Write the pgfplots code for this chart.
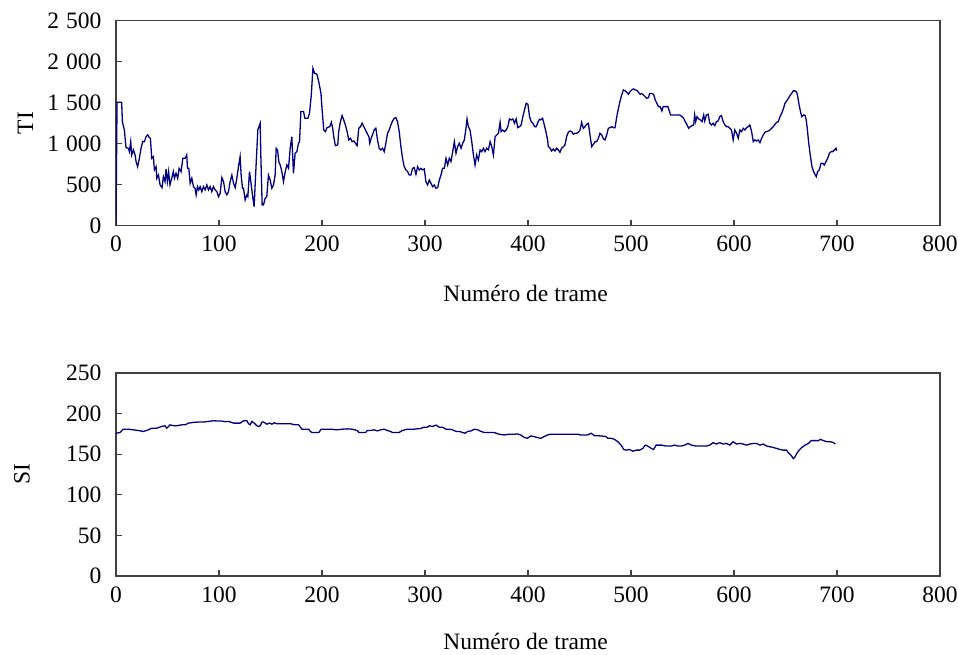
\documentclass[border=0pt]{standalone}
\usepackage{fontspec}
\setmainfont{Liberation Serif}
\usepackage{pgfplots}
\usepackage{pgfplotstable}
\pgfplotsset{compat=1.18}
\definecolor{navyline}{RGB}{0,0,128}
\definecolor{framegray}{RGB}{64,64,64}

\pgfplotstableread{
x y
0 0
1 1505
5.5 1505
6.2 1269
8.1 1168
9.7 952
12 944
13 904
14.3 1025
15.2 863
16.9 924
18.5 863
19.5 781
21 720
22.7 822
24.3 944
25.9 1025
27.6 1025
29.2 1086
30.8 1107
32.4 1074
33.4 1066
34.7 822
36.3 842
37.3 680
38.9 720
39.6 578
41.2 618
42.8 497
44.7 464
46 598
47.6 537
48.6 692
49.9 537
51.1 659
52.4 497
54.1 578
55.7 659
56.7 578
58.3 639
59.9 578
61.3 700
63.2 659
64.9 822
67.1 822
68.7 863
69.4 700
70.7 700
72 517
73.6 578
75.2 476
76.8 456
77.8 375
79.1 476
80.4 436
81.7 476
83.3 415
84.9 476
86.5 436
88.2 497
89.8 436
91.4 476
93 415
94.6 476
96.3 436
97.9 415
99.5 354
101.1 395
102.8 586
104.4 537
106 415
107.6 375
109.2 415
110.8 537
112.5 618
114.1 517
115.7 464
117.3 578
118.9 720
120.5 842
121.5 618
122.8 456
123.8 456
125.4 314
127 375
128 354
129.6 659
130.9 537
132.5 375
134.1 232
135.7 659
137.7 1168
140 1249
140.6 863
141.9 253
143.2 253
144.8 334
146.4 354
148 618
149.7 557
151.3 456
152.9 497
154.5 618
155.5 944
156.8 924
158.1 781
159.4 741
161 659
162.6 537
164.3 659
165.9 741
167.5 700
169.1 944
170.7 1086
172.3 639
173.9 883
175.6 903
177.2 1005
178.2 1025
179.5 1392
182.1 1392
183.4 1310
186.3 1310
187.9 1371
189.6 1595
191.2 1920
192.8 1859
195.1 1847
196.8 1757
199 1615
200 1432
201.7 1167
203.3 1147
204.9 1196
207.5 1208
209.1 1261
210.4 1188
211.4 1086
213 976
215.3 985
216.2 1147
217.9 1269
219.5 1343
221.1 1290
222.7 1229
224.4 1147
226 1046
227.6 1066
229.2 1025
230.9 1033
232.5 1005
234.1 976
235.7 1188
237.4 1208
239 1249
240.6 1208
242.2 1167
243.8 1127
245.5 1086
246.4 1005
247.7 1066
249 1107
250.6 1167
252.3 1188
253.9 1046
255.5 944
257.1 924
258.8 944
260.4 903
262 1005
263.6 1127
265.2 1167
266.9 1229
268.5 1277
270.1 1310
271.7 1318
273.3 1269
275 1147
276.6 964
278.2 822
279.8 720
281.5 680
283.1 659
284.7 618
286.3 618
287.9 700
289.6 708
291.2 627
292.8 720
294.4 680
296 700
297.7 680
299.3 692
300.9 537
302.5 497
304.2 557
305.8 517
307.4 476
309 497
310.6 456
312.3 464
313.9 557
315.5 618
317.1 700
318.8 700
320.4 822
322 741
323.6 822
325.2 781
326.9 903
328.5 1025
330.1 883
331.7 964
333.3 1005
335 944
336.6 1005
338.2 1046
339.8 1188
340.8 1302
342.1 1208
343.7 1167
345.4 1025
347 863
348.6 741
350.2 863
351.8 802
353.5 924
355.1 903
356.7 944
358.3 903
359.9 944
361.6 924
363.2 1025
364.8 964
366.4 863
368.1 1086
369.7 1107
371.3 1127
372.9 1261
373.9 1147
375.5 1167
377.2 1147
378.8 1167
380.4 1208
382 1302
383.7 1290
385.3 1302
386.9 1249
388.5 1302
390.1 1196
391.8 1208
393.4 1229
395 1330
396.6 1412
398.2 1493
399.9 1481
401.5 1330
403.1 1269
404.7 1249
406.4 1208
408 1208
409.6 1261
411.2 1298
412.5 1290
414.2 1310
415.8 1229
417.4 1147
419 1046
419.7 964
421.6 944
422.9 911
424.5 935
426.2 911
427.8 944
429.4 924
431 895
432.6 944
434.3 964
435.9 985
437.5 1086
439.1 1139
440.8 1155
442.4 1147
444 1115
445.6 1127
447.2 1127
448.9 1139
450.5 1167
452.1 1261
453.7 1188
455.3 1208
457 1237
458.6 1249
460.2 1107
461.8 964
463.5 993
465.1 1025
466.7 1025
468.3 1066
469.9 1127
471.6 1107
473.2 1058
474.8 1046
476.4 1107
478 1188
479.7 1196
481.3 1208
482.9 1196
484.5 1196
486.2 1330
487.8 1432
489.4 1522
491 1595
492.6 1656
494.3 1644
495.9 1627
497.5 1603
499.1 1635
500.8 1656
502.4 1668
504 1656
505.6 1652
507.2 1627
508.9 1603
510.5 1611
512.1 1595
513.7 1574
515.4 1554
517 1562
518 1611
520.2 1611
521.9 1603
523.5 1534
525.1 1493
526.7 1452
528.3 1452
530 1400
531.2 1452
533.2 1452
535.8 1452
537.4 1392
538.4 1351
540.7 1351
544 1351
547.2 1351
549.5 1330
551.1 1310
552.7 1269
554.4 1229
556 1188
557.6 1208
559.2 1220
560.9 1229
561.8 1351
562.8 1269
564.1 1330
565.7 1302
567.4 1290
569 1269
570.6 1351
571.6 1277
573.2 1351
574.9 1359
576.5 1249
578.1 1229
579.7 1249
581.4 1220
583 1269
584.6 1277
586.2 1330
587.8 1343
589.5 1269
591.1 1229
592.7 1208
594.3 1208
596 1188
597.6 1167
599.2 1046
600.8 1167
602.5 1127
604.1 1066
605.7 1167
607.3 1147
609 1188
610.6 1167
612.2 1196
613.8 1208
615.4 1229
617.1 1147
618.7 1025
620.3 1046
621.9 1033
623.5 1046
625.2 1013
626.8 1066
628.4 1107
630 1139
631.7 1147
633.3 1155
634.9 1167
636.5 1188
638.2 1208
639.8 1237
641.4 1261
643 1269
644.7 1330
646.3 1371
647.9 1424
649.5 1493
651.2 1522
652.8 1554
654.4 1587
656 1615
657.6 1644
659.3 1644
660.9 1627
661.9 1574
663.2 1473
664.9 1371
665.8 1330
667.5 1351
669.1 1343
670.1 1290
671.1 1188
672.4 1025
674 863
675.7 720
677.3 659
678.9 618
679.9 598
681.2 659
682.8 680
684.5 761
686.1 761
687.7 741
689.3 781
691 822
692.6 883
694.2 903
695.8 903
697.5 924
699.1 944
699.7 915
}\tidata

\pgfplotstableread{
x y
0 175.8
3.9 176.7
7.1 180.8
12 180.8
16.9 180
21.7 179.2
26.6 178
31.4 180
34.7 182
39.5 182
44.4 184.2
47.6 185
49.3 182
52.5 186.2
55.8 185
59 185
63.9 186.2
67.1 186.2
70.4 188.3
75.2 189.2
80.1 189.6
85 189.6
89.8 190.4
94.7 191.2
99.5 190.8
102.8 190.8
106 190
109.2 190.4
114.1 188.3
117.3 188.3
120.5 188.3
123.8 191.2
127 191.2
128.7 187.5
130.3 186.2
131.9 190.4
134.2 188.3
136.8 185
138.4 184.2
140 185
141.7 189.6
143.3 189.6
144.9 188.3
146.5 187
149.1 188.3
151.4 187
153.7 188.7
156.3 187.5
162.8 187.5
169.3 187.5
174.1 186.2
177.4 186.2
179 183.3
180.6 180.8
183.9 180.8
187.1 180.8
188.7 178
190.4 176.7
193.6 176.7
196.9 176.7
199.2 180.8
203.4 180.8
208.2 180.8
214.7 180
219.6 180.8
224.5 181.2
229.3 180.8
234.2 179.2
235.8 176.7
239.1 176.7
242.3 176.7
243.9 179.2
247.2 179.2
250.4 180
253.7 178.7
256.9 180
260.2 180.8
263.4 179.2
266.7 178
268.3 176.7
271.5 176.7
274.8 176.7
278 179.2
282.9 180.8
289.4 180.8
295.9 181.7
299.2 183.3
302.4 183.3
304.1 185
307.3 184.2
310.6 185.8
313.8 183.3
317.1 183.3
320.3 180.8
323.6 180.8
326.8 180
330.1 178
333.3 178
336.6 176.7
338.9 175.8
341.5 178
344.7 178.7
348 180.8
351.2 180
354.5 178
357.7 176.7
362.2 176.7
367.1 176.7
371.9 174.6
376.8 173.7
381.6 174.6
386.5 174.6
389.7 175
393 173.7
396.2 170.8
399.5 169.6
402.7 172.5
405.9 171.7
409.2 170.4
412.4 169.6
415.7 171.7
418.9 173.7
422.2 174.6
428.7 174.6
435.2 174.6
441.7 174.6
448.2 174.6
451.4 173.7
457.9 173.7
461.2 175.8
464.4 172.9
470.9 172.5
475.8 171.7
477.4 169.6
480.7 169.6
483.9 168.3
487.2 165.4
490.4 161.2
493 155.8
495.3 155
498.5 155.8
501.8 153.7
505 155
508.3 155
511.5 157.1
513.8 161.2
516.3 160
519.6 157.1
521.9 155.8
524.5 161.2
529.4 161.2
534.2 160
539.1 160
542.3 161.2
545.6 160
548.8 160
552.1 161.2
555.3 163.3
558.6 161.2
563.4 160
568.3 160
573.2 160
576.4 161.2
579.7 164.2
582.9 162.5
586.2 164.2
589.4 162.5
592.7 163.3
595.9 161.2
599.2 165.4
602.4 162.5
605.7 163.3
608.9 162.5
612.2 161.2
615.4 162.5
618.7 163.3
621.9 163.3
625.2 161.2
628.4 162.5
631.7 160
634.9 159.2
638.1 158.3
641.4 157.1
644.6 155.8
647.9 155
651.1 155
652.8 151.7
655.3 148.8
657.6 144.6
659.3 146.7
660.9 150.8
663.2 155
665.8 158.3
669.1 161.2
672.3 163.3
674.9 166.7
678.8 166.7
682.1 166.7
683.7 168.3
686.9 166.7
690.2 165.4
693.4 165.4
696.7 164.2
698.3 162.5
}\sidata

\pgfplotsset{
  myaxis/.style={
    scale only axis,
    width=824bp,
    anchor=south west,
    xmin=0, xmax=800,
    xtick={0,100,...,800},
    axis line style={framegray, line width=1.4bp},
    tick style={framegray, line width=1.1bp},
    tick align=inside,
    major tick length=6bp,
    xtick pos=bottom, ytick pos=left,
    /pgf/number format/assume math mode=true,
    ticklabel style={font=\fontsize{23.5bp}{28bp}\selectfont, text=black},
    label style={font=\fontsize{23.5bp}{28bp}\selectfont, text=black},
    xticklabel style={yshift=-7bp},
    yticklabel style={xshift=-11bp},
    xlabel={Numéro de trame},
    xlabel style={anchor=base},
    ylabel style={anchor=center, rotate=0},
  }
}

\begin{document}
\begin{tikzpicture}
\useasboundingbox (0,0) rectangle (958bp,655bp);
\begin{axis}[myaxis,
  at={(116bp,429.3bp)},
  height=205bp,
  ymin=0, ymax=2500,
  ytick={0,500,1000,1500,2000,2500},
  yticklabels={0,500,1\hspace{0.3em}000,1\hspace{0.3em}500,2\hspace{0.3em}000,2\hspace{0.3em}500},
  xlabel style={at={(axis description cs:0.497,-0.371)}},
  ylabel={TI},
  ylabel style={at={(axis description cs:-0.110,0.5)}},
]
\addplot[navyline, line width=1.3bp] table[x=x,y=y] {\tidata};
\end{axis}
\begin{axis}[myaxis,
  at={(116bp,79bp)},
  height=203bp,
  ymin=0, ymax=250,
  ytick={0,50,...,250},
  xlabel style={at={(axis description cs:0.497,-0.362)}},
  ylabel={SI},
  ylabel style={at={(axis description cs:-0.114,0.5)}},
]
\addplot[navyline, line width=1.3bp] table[x=x,y=y] {\sidata};
\end{axis}
\end{tikzpicture}
\end{document}
